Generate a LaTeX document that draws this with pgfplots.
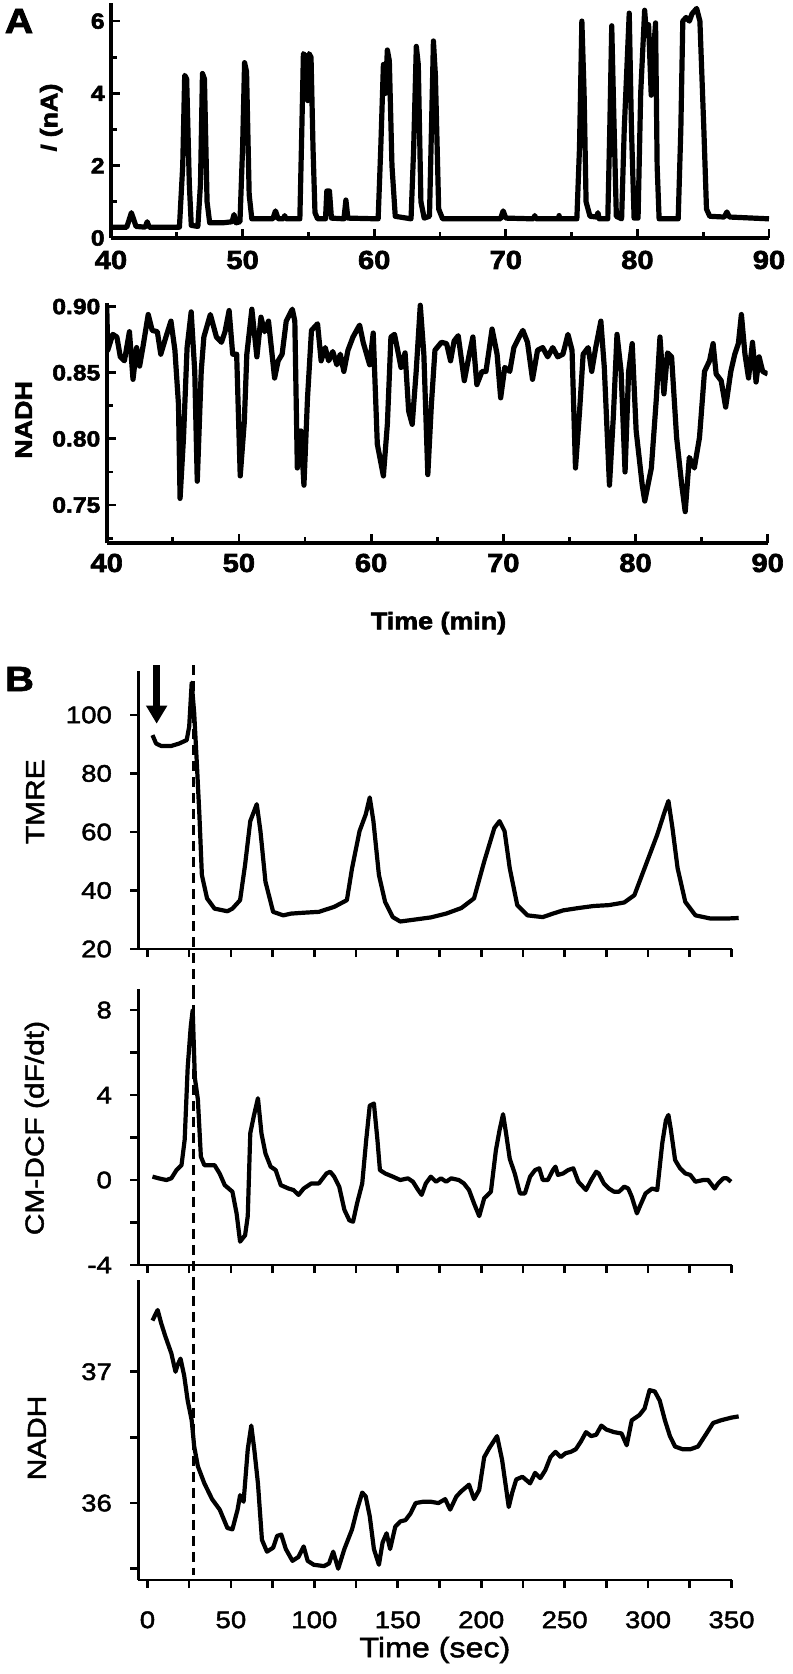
\documentclass[border=0pt]{standalone}
\usepackage{fontspec}
\setmainfont{Liberation Sans}
\newfontfamily\fa{Liberation Sans}[FakeStretch=1.12, BoldFeatures={FakeBold=2.5}]
\newfontfamily\fb{Liberation Sans}[FakeStretch=1.15, FakeBold=1.8]
\usepackage{pgfplots}
\pgfplotsset{compat=1.18}
\usetikzlibrary{arrows.meta}
\newcommand{\fAx}{\fa\bfseries\fontsize{13}{13}\selectfont}
\newcommand{\fAy}{\fa\bfseries\fontsize{11}{11}\selectfont}
\newcommand{\fAl}{\fa\bfseries\fontsize{12}{12}\selectfont}
\newcommand{\fBt}{\fb\fontsize{12}{12}\selectfont}
\newcommand{\fBl}{\fb\fontsize{13}{13}\selectfont}
\pgfplotsset{
 Acommon/.style={scale only axis, axis lines=left, axis line style={-, line width=1.8pt},
   tick align=inside, major tick length=4.5pt, minor tick length=3pt,
   tick style={black, line width=1.4pt},
   xmin=40, xmax=90, xtick={40,50,...,90}, minor xtick={45,55,65,75,85},
   xticklabels={40,50,60,70,80,90},
   yticklabel style={font=\fAy, anchor=east, inner sep=0pt, xshift=-3pt}},
 Bcommon/.style={scale only axis, axis lines=left, axis line style={-, line width=1.4pt},
   tick align=outside, major tick length=4pt, minor tick length=4pt,
   tick style={black, line width=1.3pt},
   xmin=-5.5, xmax=350, width=296.6pt, xtick={0,50,...,350}, minor xtick={25,75,...,325},
   yticklabel style={font=\fBt, anchor=east, inner sep=0pt, xshift=-9pt}, clip=false},
 Atrace/.style={black, line width=2.6pt, line join=round},
 Btrace/.style={black, line width=2.1pt, line join=round},
 Dline/.style={black, line width=1.5pt, dash pattern=on 5pt off 3pt},
}
\begin{document}
\begin{tikzpicture}
\path[use as bounding box] (0pt,0pt) rectangle (396pt,-837pt);
% ---------- Panel A top ----------
\begin{axis}[Acommon, at={(55.5pt,-119pt)}, anchor=south west, width=329pt, height=117.5pt,
  xticklabel style={font=\fAx, anchor=center, inner sep=0pt, yshift=-11pt},
  ymin=0, ymax=6.5, ytick={0,2,4,6}, minor ytick={1,3,5}, yticklabels={0,2,4,6},
  ylabel={\textit{I} (nA)},
  every axis y label/.style={at={(axis description cs:-0.091,0.51)}, rotate=90, anchor=center, font=\fAl}]
\addplot[Atrace] coordinates {
(40.0,0.30)(41.2,0.30)(41.55,0.70)(41.9,0.32)(42.6,0.30)(42.75,0.45)(42.9,0.30)(45.2,0.30)
(45.45,2.0)(45.6,4.5)(45.75,4.4)(45.95,1.5)(46.1,0.35)(46.6,0.32)(46.8,1.5)(46.95,4.55)(47.1,4.4)(47.3,1.0)(47.5,0.42)
(48.5,0.42)(49.2,0.45)(49.35,0.65)(49.5,0.42)(49.8,0.45)(50.0,2.5)(50.15,4.85)(50.3,4.6)(50.5,1.2)(50.7,0.53)
(52.3,0.53)(52.5,0.75)(52.7,0.53)(53.1,0.53)(53.2,0.62)(53.3,0.53)(54.35,0.53)(54.5,3.0)(54.62,5.1)(54.8,5.0)(54.95,3.8)
(55.05,5.1)(55.2,5.0)(55.35,2.5)(55.5,0.7)(55.7,0.53)(56.3,0.53)(56.4,1.3)(56.6,1.3)(56.75,0.55)(57.7,0.53)(57.85,1.05)
(58.0,0.55)(60.3,0.53)(60.5,2.5)(60.7,4.8)(60.85,4.0)(61.0,5.2)(61.15,4.9)(61.35,2.0)(61.6,0.6)(62.8,0.53)(63.0,2.5)
(63.2,5.3)(63.35,4.8)(63.55,1.0)(63.8,0.55)(64.2,0.6)(64.35,3.0)(64.5,5.45)(64.65,4.5)(64.9,0.8)(65.2,0.53)(69.6,0.53)
(69.8,0.75)(70.0,0.55)(72.1,0.53)(72.2,0.62)(72.3,0.53)(74.0,0.53)(74.05,0.62)(74.1,0.53)(75.4,0.53)(75.6,2.5)(75.78,6.0)
(75.95,4.0)(76.1,1.0)(76.4,0.6)(76.9,0.58)(77.0,0.7)(77.1,0.53)(77.75,0.53)(77.9,3.0)(78.05,5.87)(78.2,3.5)(78.4,0.6)
(78.8,0.53)(79.0,3.0)(79.38,6.22)(79.55,3.0)(79.75,0.55)(80.05,0.55)(80.25,4.0)(80.55,6.3)(80.7,5.6)(80.85,5.9)(81.05,3.95)
(81.2,5.0)(81.38,5.95)(81.5,2.0)(81.65,0.53)(83.1,0.53)(83.3,3.0)(83.45,6.0)(83.7,6.1)(83.95,6.0)(84.15,6.2)(84.5,6.35)
(84.75,6.0)(85.05,3.0)(85.25,0.8)(85.5,0.6)(86.6,0.58)(86.8,0.72)(87.0,0.58)(90.0,0.53)};
\end{axis}
% ---------- Panel A bottom ----------
\begin{axis}[Acommon, at={(53.35pt,-271.5pt)}, anchor=south west, width=330.5pt, height=120.2pt,
  xticklabel style={font=\fAx, anchor=center, inner sep=0pt, yshift=-10pt},
  ymin=0.7213, ymax=0.903, ytick={0.75,0.8,0.85,0.9}, minor ytick={0.725,0.775,0.825,0.875},
  yticklabels={0.75,0.80,0.85,0.90},
  ylabel={NADH}, xlabel={Time (min)},
  every axis y label/.style={at={(axis description cs:-0.1256,0.512)}, rotate=90, anchor=center, font=\fAl},
  every axis x label/.style={at={(axis description cs:0.502,-0.333)}, anchor=center, font=\fAl}]
\addplot[Atrace] coordinates {
(40.00,0.901)(40.08,0.867)(40.46,0.879)(40.77,0.877)(41.03,0.862)(41.34,0.859)(41.72,0.881)(41.99,0.845)
(42.26,0.869)(42.49,0.855)(42.75,0.870)(43.14,0.894)(43.44,0.882)(43.83,0.881)(44.09,0.864)(44.48,0.877)
(44.86,0.889)(45.16,0.867)(45.43,0.826)(45.55,0.755)(45.81,0.801)(46.08,0.869)(46.39,0.896)(46.66,0.851)
(46.85,0.768)(47.15,0.851)(47.35,0.877)(47.84,0.894)(48.30,0.877)(48.68,0.873)(48.95,0.881)(49.26,0.897)
(49.53,0.864)(49.83,0.864)(50.10,0.772)(50.41,0.813)(50.60,0.864)(50.98,0.898)(51.36,0.862)(51.67,0.892)
(51.94,0.881)(52.24,0.889)(52.70,0.846)(52.97,0.859)(53.27,0.864)(53.58,0.889)(54.04,0.898)(54.23,0.889)
(54.42,0.778)(54.69,0.806)(54.92,0.765)(55.19,0.831)(55.49,0.882)(55.95,0.887)(56.22,0.859)(56.53,0.869)
(56.79,0.859)(57.10,0.866)(57.41,0.856)(57.67,0.864)(57.94,0.851)(58.25,0.867)(58.63,0.877)(59.13,0.886)
(59.40,0.873)(59.89,0.856)(60.16,0.880)(60.47,0.796)(60.93,0.772)(61.23,0.811)(61.50,0.877)(61.77,0.879)
(62.07,0.864)(62.26,0.854)(62.57,0.865)(62.84,0.821)(63.11,0.811)(63.41,0.851)(63.72,0.901)(63.99,0.864)
(64.29,0.773)(64.56,0.826)(64.83,0.867)(65.32,0.873)(65.71,0.872)(66.01,0.859)(66.28,0.874)(66.59,0.878)
(67.05,0.844)(67.43,0.864)(67.70,0.877)(68.00,0.841)(68.39,0.851)(68.69,0.851)(69.15,0.883)(69.53,0.864)
(69.80,0.831)(70.11,0.854)(70.49,0.851)(70.80,0.869)(71.25,0.878)(71.48,0.882)(71.83,0.873)(72.21,0.845)
(72.59,0.867)(72.98,0.869)(73.36,0.862)(73.74,0.869)(74.12,0.862)(74.51,0.864)(74.89,0.879)(75.20,0.867)
(75.46,0.778)(75.77,0.821)(76.04,0.864)(76.42,0.869)(76.69,0.851)(76.99,0.869)(77.38,0.889)(77.64,0.854)
(78.03,0.765)(78.33,0.818)(78.60,0.879)(78.91,0.851)(79.21,0.775)(79.48,0.851)(79.75,0.872)(80.05,0.806)
(80.51,0.765)(80.70,0.753)(81.20,0.778)(81.58,0.831)(81.85,0.877)(82.15,0.834)(82.42,0.865)(82.73,0.862)
(83.11,0.801)(83.50,0.765)(83.76,0.745)(84.07,0.786)(84.45,0.778)(84.84,0.801)(85.22,0.851)(85.60,0.859)
(85.87,0.872)(86.10,0.849)(86.48,0.844)(86.82,0.824)(87.21,0.851)(87.51,0.864)(87.78,0.872)(88.01,0.894)
(88.28,0.864)(88.55,0.846)(88.85,0.873)(89.12,0.843)(89.35,0.862)(89.62,0.851)(90.00,0.849)};
\end{axis}
% ---------- Panel B TMRE ----------
\begin{axis}[Bcommon, at={(69.15pt,-474.5pt)}, anchor=south west, height=139pt,
  ymin=20, ymax=115, ytick={20,40,60,80,100}, yticklabels={20,40,60,80,100}, xticklabels={},
  ylabel={TMRE},
  every axis y label/.style={at={(axis description cs:-0.174,0.53)}, rotate=90, anchor=center, font=\fBl}]
\addplot[Btrace] coordinates {
(3.0,93.1)(5.2,90.2)(8.2,89.4)(14.3,89.4)(18.9,90.2)(23.5,91.4)(25.0,96)(26.5,111)(28.0,100.6)(29.6,83.3)
(31.1,66)(32.6,45.3)(35.7,37.3)(40.2,33.8)(47.9,32.9)(50.9,33.8)(55.5,36.7)(58.5,48.8)(61.6,63.7)(65.5,69.5)
(67.7,60.3)(70.7,43)(75.3,32.7)(81.4,31.5)(86.0,32.1)(93.6,32.4)(102.7,32.7)(111.9,34.4)(119.5,36.7)(122.6,47.6)
(127.1,60.3)(130.8,66)(133.2,71.8)(135.4,63.7)(138.7,45.3)(142.4,36.1)(147.0,30.9)(151.5,29.4)(160.7,30.1)
(169.8,30.8)(179.0,32.1)(188.1,34)(195.7,37.3)(201.8,49.9)(207.9,61.4)(211.0,63.7)(214.0,60.3)(217.1,47.6)
(221.6,35)(227.7,31.5)(236.9,30.9)(243.0,32.1)(249.1,33.2)(258.2,34)(267.4,34.7)(276.5,35)(285.7,35.9)
(291.8,38.4)(297.9,47.6)(305.5,59.1)(310.1,67.2)(312.2,70.6)(314.6,61.4)(317.7,47.6)(322.3,36.1)(328.4,31.5)
(337.5,30.4)(346.6,30.4)(354.3,30.6)};
\addplot[Dline] coordinates {(27.4,117)(27.4,6.4)};
\addplot[black, line width=3.2pt, -{Triangle[width=10pt,length=9pt]}] coordinates {(5.5,117)(5.5,97)};
\end{axis}
% ---------- Panel B CM-DCF ----------
\begin{axis}[Bcommon, at={(69.15pt,-632.5pt)}, anchor=south west, height=138.1pt,
  ymin=-4, ymax=9, ytick={-4,0,4,8}, minor ytick={-2,2,6}, yticklabels={-4,0,4,8}, xticklabels={},
  ylabel={CM-DCF (dF/dt)},
  every axis y label/.style={at={(axis description cs:-0.171,0.496)}, rotate=90, anchor=center, font=\fBl}]
\addplot[Btrace] coordinates {
(3.0,0.16)(6.7,0.08)(11.3,0)(14.3,0.08)(17.4,0.47)(20.4,0.7)(22.3,1.9)(24.1,5.3)(25.9,7.2)(27.1,8.0)(28.4,4.8)
(30.2,3.8)(32.0,1.1)(34.1,0.7)(40.2,0.7)(43.3,0.3)(46.3,-0.24)(50.9,-0.55)(53.4,-1.57)(55.5,-2.9)(58.5,-2.6)
(60.1,-1.7)(61.6,2.2)(63.7,3.0)(66.2,3.85)(68.3,2.2)(70.7,1.25)(73.8,0.63)(76.8,0.47)(79.9,-0.24)(84.5,-0.4)
(87.5,-0.47)(90.5,-0.7)(93.6,-0.4)(98.2,-0.16)(102.7,-0.16)(107.3,0.31)(109.5,0.39)(111.9,0.16)(114.9,-0.31)
(118.0,-1.4)(121.0,-1.9)(123.2,-1.96)(125.6,-1.1)(128.7,-0.16)(131.1,1.9)(133.2,3.5)(135.7,3.6)(137.8,1.9)
(139.3,0.47)(142.4,0.31)(147.0,0.16)(151.5,0)(156.1,0.08)(159.1,-0.08)(162.2,-0.47)(164.3,-0.7)(166.8,-0.16)
(169.8,0.16)(172.9,-0.08)(175.9,0.08)(179.0,-0.08)(182.0,0.08)(186.6,0)(189.6,-0.16)(192.7,-0.47)(195.7,-1.1)
(198.8,-1.7)(201.8,-0.86)(205.8,-0.55)(208.8,1.4)(211.0,2.35)(213.1,3.1)(214.9,2.2)(217.1,1.0)(220.1,0.31)
(223.2,-0.63)(226.2,-0.63)(229.3,0.16)(232.3,0.47)(234.8,0.55)(236.9,0)(239.9,0)(243.0,0.47)(244.5,0.63)
(246.0,0.24)(249.1,0.31)(252.1,0.47)(255.2,0.55)(258.2,-0.08)(262.8,-0.47)(265.9,0)(268.9,0.39)(270.4,0.31)
(273.5,-0.16)(276.5,-0.4)(279.6,-0.55)(282.6,-0.55)(285.7,-0.31)(288.1,-0.4)(290.2,-0.78)(293.3,-1.57)
(295.4,-1.18)(298.5,-0.63)(302.4,-0.4)(305.5,-0.47)(308.5,1.73)(310.7,2.82)(312.2,3.06)(313.7,2.35)(316.2,0.94)
(319.2,0.55)(322.3,0.31)(325.3,0.24)(328.4,-0.08)(333.0,0)(336.0,0)(339.9,-0.4)(342.0,-0.16)(345.1,0.08)
(347.3,0.08)(349.7,-0.08)};
\addplot[Dline] coordinates {(27.4,9)(27.4,-4.7)};
\end{axis}
% ---------- Panel B NADH ----------
\begin{axis}[Bcommon, at={(69.15pt,-790pt)}, anchor=south west, height=150.1pt,
  ymin=35.414, ymax=37.7, ytick={36,37}, minor ytick={35.5,36.5}, yticklabels={36,37},
  xticklabels={0,50,100,150,200,250,300,350},
  xticklabel style={font=\fBt, anchor=center, inner sep=0pt, yshift=-15.9pt},
  ylabel={NADH}, xlabel={Time (sec)},
  every axis y label/.style={at={(axis description cs:-0.171,0.473)}, rotate=90, anchor=center, font=\fBl},
  every axis x label/.style={at={(axis description cs:0.5,-0.233)}, anchor=center, font=\fb\fontsize{14}{14}\selectfont}]
\addplot[Btrace] coordinates {
(3.0,37.39)(6.1,37.47)(8.2,37.37)(10.7,37.27)(14.3,37.14)(16.8,37.0)(18.0,37.05)(19.8,37.1)(22.0,36.97)
(24.1,36.78)(26.5,36.63)(28.0,36.43)(30.2,36.28)(34.1,36.15)(38.7,36.03)(43.3,35.95)(47.9,35.81)(50.9,35.80)
(54.0,35.95)(55.5,36.06)(57.6,36.01)(60.1,36.41)(62.2,36.59)(64.0,36.41)(66.2,36.15)(68.6,35.72)(71.6,35.63)
(75.3,35.66)(77.7,35.75)(80.2,35.76)(82.9,35.65)(86.9,35.56)(90.5,35.59)(93.6,35.67)(96.0,35.56)(99.7,35.53)
(105.8,35.52)(108.8,35.54)(111.3,35.63)(114.3,35.50)(118.0,35.65)(122.6,35.80)(125.6,35.95)(128.7,36.08)
(130.8,36.05)(133.2,35.90)(135.7,35.65)(138.7,35.53)(140.9,35.70)(143.3,35.77)(145.4,35.65)(148.5,35.82)
(151.5,35.86)(154.6,35.87)(157.6,35.92)(160.7,36.0)(165.2,36.01)(169.8,36.01)(174.4,36.0)(178.4,36.03)
(181.4,35.95)(185.1,36.05)(188.1,36.09)(192.7,36.14)(195.7,36.03)(198.8,36.10)(201.8,36.35)(204.9,36.42)
(209.5,36.51)(212.5,36.33)(216.5,35.97)(218.6,36.08)(221.0,36.18)(224.7,36.20)(229.3,36.15)(232.3,36.23)
(235.4,36.19)(238.4,36.25)(241.5,36.35)(244.5,36.39)(247.6,36.35)(250.6,36.38)(253.7,36.39)(256.7,36.41)
(259.8,36.47)(262.8,36.54)(265.9,36.51)(268.9,36.52)(272.0,36.59)(275.0,36.56)(279.6,36.54)(284.1,36.53)
(287.2,36.44)(290.2,36.63)(294.8,36.67)(297.9,36.72)(300.9,36.86)(304.0,36.85)(307.0,36.78)(310.1,36.63)
(313.1,36.51)(316.2,36.43)(320.7,36.41)(325.3,36.41)(329.9,36.43)(334.5,36.52)(339.0,36.61)(343.6,36.63)
(349.7,36.65)(354.3,36.66)};
\addplot[Dline] coordinates {(27.4,37.7)(27.4,35.45)};
\end{axis}
\node[font=\fa\bfseries\fontsize{17.5}{17.5}\selectfont, anchor=center] at (9.5pt,-10.5pt) {A};
\node[font=\fb\bfseries\fontsize{17.5}{17.5}\selectfont, anchor=center] at (9.75pt,-339.5pt) {B};
\end{tikzpicture}
\end{document}
